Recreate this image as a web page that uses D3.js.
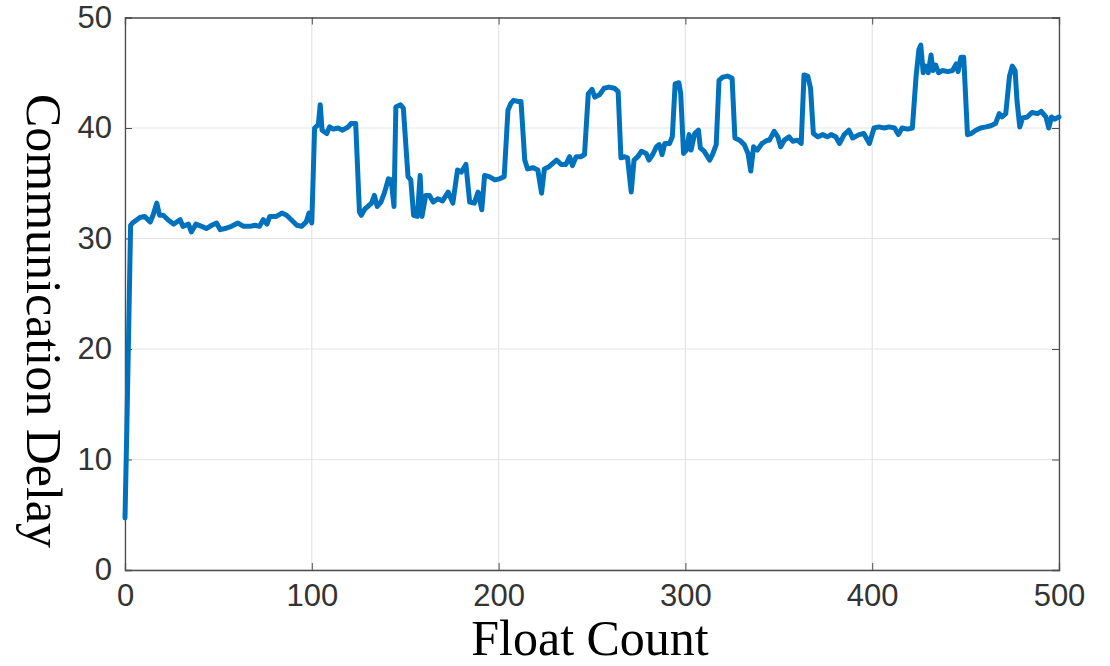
<!DOCTYPE html>
<html><head><meta charset="utf-8">
<script src="https://cdn.jsdelivr.net/npm/d3@7"></script>
<style>body{margin:0;background:#fff}svg{display:block}</style>
</head><body><svg id="c" width="1110" height="666"></svg>
<script>
const floatCount = [0,1,2,3,4,8,10.5,13.5,15,17,18.5,20.5,23,26,29.5,31,34,35.5,38,41,43.5,46.5,49,51,53.5,57,60.5,63.5,67,69.5,72,74,76,77.5,81,84,86.5,89,92,94.5,97,98.5,100,101.5,103.5,104.5,105.5,108,109.5,111.5,114,116.5,119.5,121,123.5,125.5,126.5,128.5,130,132,133.5,135,137,139,141,142.5,144,145,147.5,149,151.5,153,154.5,156.5,158,159,161,163,165,167.5,170,173,175.5,178,180,182.5,184.5,187,189,191,192.5,195,198,200.5,203,205,206.5,208,210.5,212,214,215.5,218.5,221,223,224.5,227,229,231,233.5,236,238,239.5,241.5,244,246,248,250,251.5,254,256.5,259,262,264,265.5,267.5,269,271,272.5,274.5,276.5,279,280.5,282.5,284.5,286,287.5,289,291.5,293,294.5,296.5,297.5,299,300.5,302,303,305,307,308,310,313,314.5,316.5,318,320,322.5,325,326.5,329,331.5,333.5,335,336.5,338.5,341,344,345,347.5,349.5,351,353,355.5,357.5,360,362,363.5,365.5,367,368.5,371,373.5,376,378,380.5,382.5,385,387.5,389.5,393,395.5,398.5,401,403.5,406.5,409,412,414,416,419,421.5,423.5,425,426,427.3,428.7,430,431.5,432.5,434,435.5,437.5,440.5,443,445,446,447.5,449,451,453,455.5,458,461,463.5,466,468,469.5,471.5,473.5,475,476.5,477.5,479,480.5,483,485.5,488.5,490.5,493,494.5,496,497.5,500];
const delay = [4.7,13,22,31.2,31.4,31.9,32.0,31.5,32.1,33.2,32.1,32.1,31.7,31.3,31.7,31.1,31.3,30.6,31.3,31.1,30.9,31.2,31.4,30.8,30.9,31.1,31.4,31.1,31.1,31.2,31.1,31.7,31.3,32.0,32.0,32.3,32.1,31.7,31.2,31.1,31.5,32.3,31.4,40.0,40.3,42.1,39.8,39.5,40.1,39.9,40.0,39.8,40.1,40.4,40.4,32.4,32.1,32.7,32.9,33.2,33.9,32.9,33.3,34.2,35.4,35.3,32.9,41.9,42.1,41.8,35.6,35.3,32.1,32.0,35.7,32.0,33.9,33.9,33.3,33.6,33.4,34.2,33.2,36.2,36.0,36.7,33.3,33.2,34.2,32.6,35.7,35.6,35.3,35.4,35.6,41.6,42.2,42.5,42.4,42.4,37.1,36.3,36.4,36.2,34.1,36.3,36.5,36.8,37.1,36.7,36.7,37.4,36.6,37.4,37.4,37.6,43.1,43.5,42.8,43.0,43.6,43.7,43.6,43.3,37.3,37.4,37.3,34.2,37.1,37.4,37.9,37.7,37.1,37.6,38.3,38.5,37.6,38.6,38.6,39.2,44.0,44.1,43.1,37.7,38.0,39.4,38.0,39.5,39.8,38.2,37.9,37.1,37.6,38.5,44.3,44.6,44.7,44.5,39.1,38.9,38.5,37.7,36.1,38.3,38.0,38.6,38.9,38.9,39.7,39.2,38.3,38.9,39.2,38.8,38.9,38.6,44.8,44.7,43.6,39.5,39.2,39.4,39.2,39.4,39.2,38.6,39.4,39.8,39.1,39.4,39.5,38.6,40.0,40.1,40.0,40.1,40.0,39.4,40.0,39.9,40.0,44.7,47.1,47.5,45.0,45.6,45.0,46.6,45.2,45.7,45.0,45.2,45.1,45.2,45.8,45.1,46.4,46.4,39.4,39.5,39.8,40.0,40.1,40.2,40.4,41.3,41.0,41.3,44.7,45.6,45.2,42.5,40.1,40.9,41.0,41.4,41.3,41.5,41.0,40.0,41.0,40.8,41.0];
const xTicks = [0,100,200,300,400,500];
const yTicks = [0,10,20,30,40,50];
const xLabel = "Float Count";
const yLabel = "Communication Delay";

const L = 125, R = 1059, T = 17.5, B = 570;
const svg = d3.select("#c");
const x = d3.scaleLinear().domain([0,500]).range([L,R]);
const y = d3.scaleLinear().domain([0,50]).range([B,T]);

// grid
svg.append("g").selectAll("line").data(xTicks).join("line")
  .attr("x1",d=>x(d)).attr("x2",d=>x(d)).attr("y1",T).attr("y2",B)
  .attr("stroke","#e5e5e5").attr("stroke-width",1.2);
svg.append("g").selectAll("line").data(yTicks).join("line")
  .attr("x1",L).attr("x2",R).attr("y1",d=>y(d)).attr("y2",d=>y(d))
  .attr("stroke","#e5e5e5").attr("stroke-width",1.2);

const tickCol = "#333333";
const fnt = "'Liberation Sans', Arial, Helvetica, sans-serif";
// axes
const xa = svg.append("g").attr("transform",`translate(0,${B})`)
  .call(d3.axisBottom(x).tickValues(xTicks).tickSize(-7).tickPadding(14).tickFormat(d3.format("d")));
const xt = svg.append("g").attr("transform",`translate(0,${T})`)
  .call(d3.axisTop(x).tickValues(xTicks).tickSize(-7).tickFormat(""));
const ya = svg.append("g").attr("transform",`translate(${L},0)`)
  .call(d3.axisLeft(y).tickValues(yTicks).tickSize(-7).tickPadding(13).tickFormat(d3.format("d")));
const yr = svg.append("g").attr("transform",`translate(${R},0)`)
  .call(d3.axisRight(y).tickValues(yTicks).tickSize(-7).tickFormat(""));
[xa,xt,ya,yr].forEach(g=>{
  g.select(".domain").attr("stroke","#4d4d4d").attr("stroke-width",1.3);
  g.selectAll(".tick line").attr("stroke","#4d4d4d").attr("stroke-width",1);
  g.selectAll("text").attr("font-family",fnt).attr("font-size",31).attr("fill",tickCol);
});
xa.selectAll("text").attr("dy","0.71em");

// line
svg.append("path").datum(floatCount.map((f,i)=>[f,delay[i]]))
  .attr("fill","none").attr("stroke","#0072BD").attr("stroke-width",5)
  .attr("stroke-linejoin","round").attr("stroke-linecap","round")
  .attr("d", d3.line().x(d=>x(d[0])).y(d=>y(d[1])));

// labels
svg.append("text").attr("x",590).attr("y",655).attr("text-anchor","middle")
  .attr("font-family","'Liberation Serif','Times New Roman',serif").attr("font-size",50).attr("fill","#000")
  .text(xLabel);
svg.append("text").attr("transform","translate(27,321) rotate(90)").attr("text-anchor","middle")
  .attr("font-family","'Liberation Serif','Times New Roman',serif").attr("font-size",50).attr("fill","#000")
  .text(yLabel);
</script></body></html>
